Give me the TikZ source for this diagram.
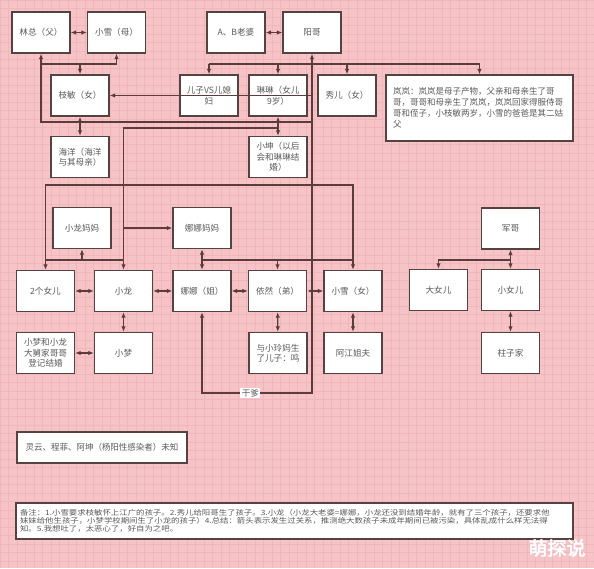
\documentclass[tikz,border=0pt]{standalone}
\usepackage{fontspec}
\usepackage{graphicx}
\setmainfont{Noto Sans CJK SC}
\newfontfamily\markfont[FakeBold=2.5]{Noto Sans CJK SC}
\usetikzlibrary{arrows.meta,calc}
\definecolor{pinkbg}{HTML}{F6C3C6}
\definecolor{pinkgrid}{HTML}{F0B6BA}
\definecolor{boxline}{HTML}{574242}
\definecolor{linkline}{HTML}{5B3B3B}
\definecolor{greytext}{HTML}{5A5A5A}

\begin{document}
\begin{tikzpicture}[x=1pt,y=-1pt,
    boxes/.style={draw=boxline, line width=1.3pt, fill=white, text=greytext, align=center, minimum width=58pt, minimum height=41pt, inner sep=2pt, font=\fontsize{8.6}{10.5}\selectfont},
    notes/.style={draw=boxline, line width=1.3pt, fill=white, text=greytext, inner xsep=7pt, font=\fontsize{8.5}{11}\selectfont},
    links/.style={draw=linkline, line width=1.2pt},
    onearrow/.style={links, -{Latex[length=5.5pt,width=4.5pt]}},
    twoarrow/.style={links, {Latex[length=5.5pt,width=4.5pt]}-{Latex[length=5.5pt,width=4.5pt]}}]

    \useasboundingbox (0,0) rectangle (594,568);
    \fill[pinkbg] (0,0) rectangle (594,568);
    \draw[pinkgrid, line width=0.3pt, step=8.5pt] (0,0) grid (594,568);

    % first generation
    \node[boxes] (lin) at (41,32.5) {林总（父）};
    \node[boxes] (xue) at (116.5,32.5) {小雪（母）};
    \node[boxes] (abwife) at (236,32.5) {A、B老婆};
    \node[boxes] (yang) at (312,32.5) {阳哥};

    % second row
    \node[boxes] (zhimin) at (80,95.5) {枝敏（女）};
    \node[boxes] (son) at (209,95.5) {儿子VS儿媳\\妇};
    \node[boxes] (linlin) at (278,95.5) {琳琳（女儿\\9岁）};
    \node[boxes] (xiuer) at (347,95.5) {秀儿（女）};
    \node[notes, minimum width=187pt, minimum height=66pt, text width=173pt, align=left] (lanlan) at (479.5,108) {岚岚：岚岚是母子产物，父亲和母亲生了哥\\哥，哥哥和母亲生了岚岚，岚岚回家得服侍哥\\哥和侄子，小枝敏两岁，小雪的爸爸是其二姑\\父};
    \node[boxes] (haiyang) at (80,157) {海洋（海洋\\与其母亲）};
    \node[boxes] (kun) at (278,157) {小坤（以后\\会和琳琳结\\婚）};

    % third block
    \node[boxes] (longma) at (82,228) {小龙妈妈};
    \node[boxes] (nanama) at (202,228) {娜娜妈妈};
    \node[boxes] (girls) at (45.5,291) {2个女儿};
    \node[boxes] (long) at (123.5,291) {小龙};
    \node[boxes] (nana) at (202,291) {娜娜（姐）};
    \node[boxes] (yiran) at (277.5,291) {依然（弟）};
    \node[boxes] (xuenv) at (353,291) {小雪（女）};
    \node[boxes] (meng2) at (45.5,353) {小梦和小龙\\大舅家哥哥\\登记结婚};
    \node[boxes] (meng) at (123.5,353) {小梦};
    \node[boxes] (ming) at (278,353) {与小玲妈生\\了儿子：鸣};
    \node[boxes] (jiang) at (353,353) {阿江姐夫};

    % right block
    \node[boxes] (jun) at (510.5,228.5) {军哥};
    \node[boxes] (big) at (438.5,290) {大女儿};
    \node[boxes] (small) at (510.5,290) {小女儿};
    \node[boxes] (zhuzi) at (510.5,353) {柱子家};

    % notes at the bottom
    \node[notes, minimum width=170pt, minimum height=31pt] (unknown) at (102,447.5) {灵云、程菲、阿坤（杨阳性感染者）未知};
    \node[notes, minimum width=557pt, minimum height=36pt, inner xsep=4pt] (remark) at (294.5,521) {\scalebox{1}[0.85]{\parbox{549pt}{\fontsize{8.4}{9.2}\selectfont 备注：1.小雪要求枝敏怀上江广的孩子。2.秀儿给阳哥生了孩子。3.小龙（小龙大老婆=娜娜，小龙还没到结婚年龄，就有了三个孩子，还要求他\\妹妹给他生孩子，小梦学校期间生了小龙的孩子）4.总结：箭头表示发生过关系，推测绝大数孩子未成年期间已被污染，具体乱成什么样无法得\\知。5.我想吐了，太恶心了，好自为之吧。}}};
    \node[text=white, font=\markfont\fontsize{19}{19}\selectfont] (mark) at (557,548) {萌探说};

    % rows of the connectors
    \coordinate (rowA) at (0,64);
    \coordinate (rowB) at (0,122);
    \coordinate (rowC) at (0,128);
    \coordinate (rowD) at (0,185);
    \coordinate (rowE) at (0,260);
    \coordinate (rowF) at (0,393);

    \draw[twoarrow] (lin) -- (xue);
    \draw[twoarrow] (abwife) -- (yang);
    \draw[twoarrow] (lin.south) |- (rowA -| xue.south) -- (xue.south);
    \draw[onearrow] (rowA -| zhimin.north) -- (zhimin.north);
    \draw[links] (rowA -| lin.south) |- (rowB -| yang.south);
    \draw[twoarrow] (zhimin) -- (haiyang);

    % trunk of yang
    \draw[twoarrow] (yang.south) -- (rowF -| yang.south) -- node[pos=0.56, fill=white, inner sep=1.5pt, text=greytext, font=\fontsize{8.5}{10}\selectfont] (godpa) {干爹} (rowF -| nana.south) -- (nana.south);
    \draw[links] (rowA -| son.north) -- (rowA -| lanlan.north);
    \draw[onearrow] (rowA -| son.north) -- (son.north);
    \draw[onearrow] (rowA -| linlin.north) -- (linlin.north);
    \draw[onearrow] (rowA -| xiuer.north) -- (xiuer.north);
    \draw[onearrow] (rowA -| lanlan.north) -- (lanlan.north);
    \draw[onearrow] (yang.south |- zhimin.east) -- (zhimin.east);
    \draw[twoarrow] (linlin) -- (kun);
    \draw[onearrow] (rowC -| linlin.south) -| (long.north);
    \draw[onearrow] (long.north |- nanama.west) -- (nanama.west);

    % third block
    \draw[twoarrow] (girls.north) |- (rowD -| xuenv.north) -- (xuenv.north);
    \draw[links] (rowE -| girls.north) -- (rowE -| long.north);
    \draw[onearrow] (rowE -| longma.south) -- (longma.south);
    \draw[twoarrow] (nanama) -- (nana);
    \draw[links] (rowE -| nana.north) -- (rowE -| xuenv.north);
    \draw[onearrow] (rowE -| yiran.north) -- (yiran.north);
    \draw[twoarrow] (girls) -- (long);
    \draw[twoarrow] (long) -- (nana);
    \draw[twoarrow] (nana) -- (yiran);
    \draw[twoarrow] (yiran) -- (xuenv);
    \draw[twoarrow] (long) -- (meng);
    \draw[twoarrow] (meng2) -- (meng);
    \draw[twoarrow] (yiran) -- (ming);
    \draw[twoarrow] (xuenv) -- (jiang);

    % right block
    \draw[twoarrow] (jun) -- (small);
    \draw[onearrow] (rowE -| jun.south) -| (big.north);
    \draw[twoarrow] (small) -- (zhuzi);
\end{tikzpicture}
\end{document}
